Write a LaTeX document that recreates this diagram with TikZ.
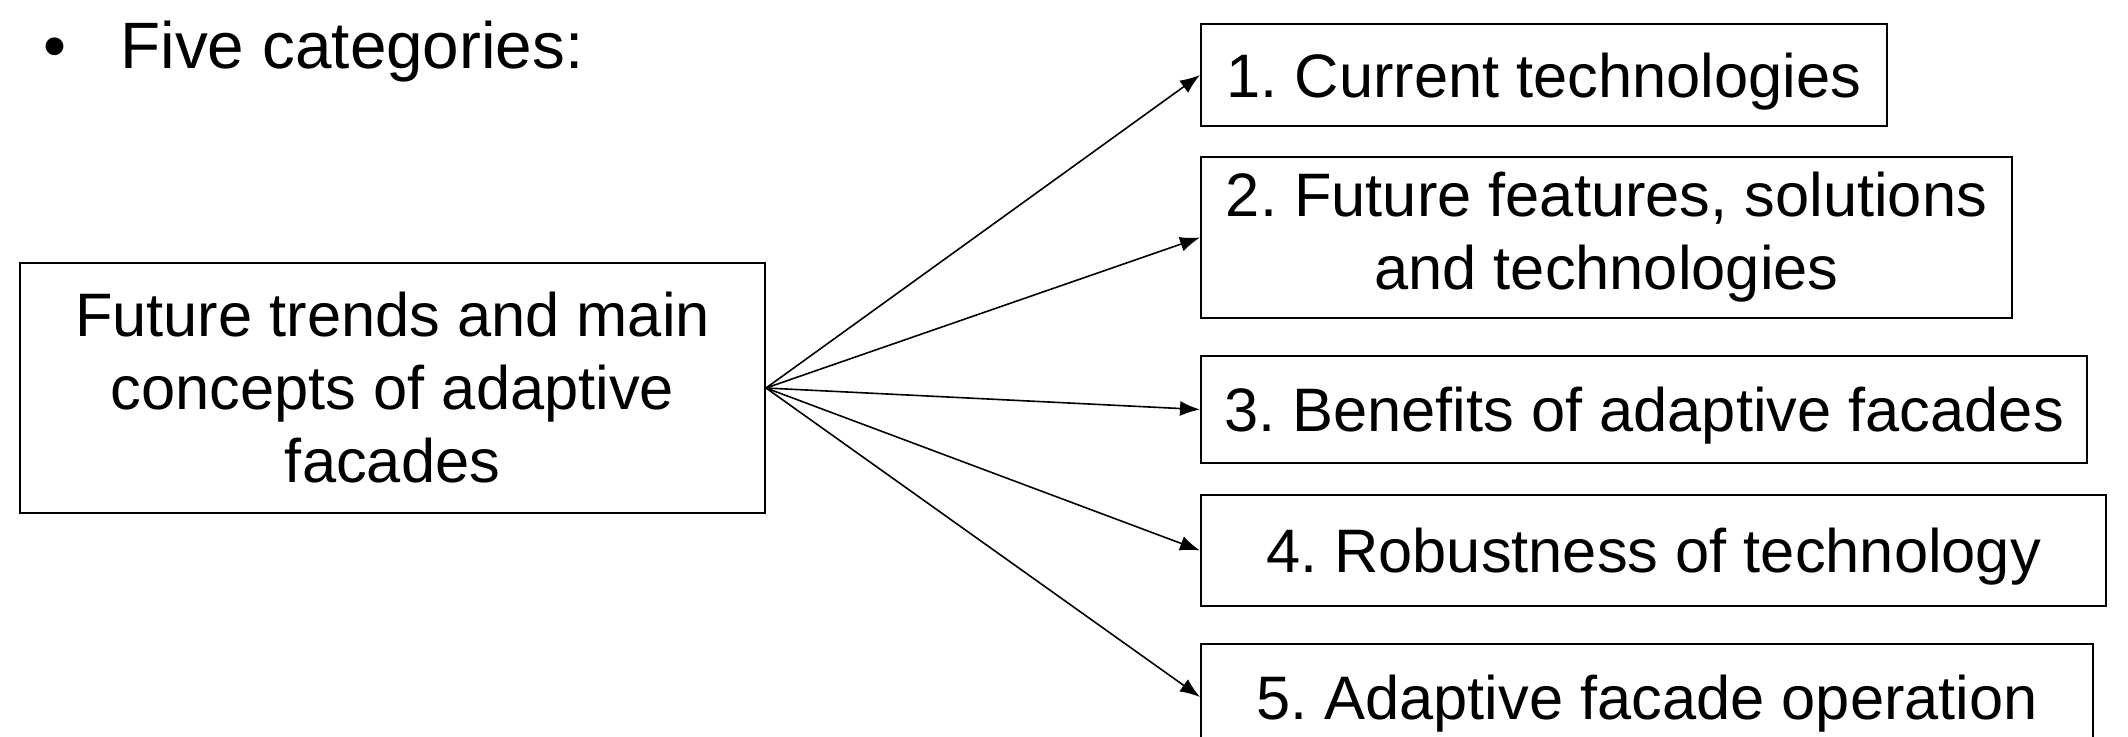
\documentclass[tikz,border=0pt]{standalone}
\usepackage{fontspec}
\setmainfont{Liberation Sans}
\usetikzlibrary{arrows.meta}
\frenchspacing
\begin{document}
\begin{tikzpicture}[x=0.5pt,y=-0.5pt,
  box/.style={draw=black, line width=1pt, inner sep=0pt, align=center,
    font=\fontsize{30.7pt}{36.5pt}\selectfont},
  onebox/.style={box, text depth=0pt},
  link/.style={line width=0.8pt, -{Latex[length=10pt,width=7.5pt]}},
  title/.style={inner sep=0pt, font=\fontsize{32.8pt}{38pt}\selectfont}
]
\useasboundingbox (0,0) rectangle (2128,737);
\node[title, anchor=base] (bul) at (55,69) {•};
\node[title, anchor=base west] (head) at (120,69) {Five categories:};
\node[box, minimum width=372.5pt, minimum height=125pt] (main) at (392.5,388)
  {Future trends and main\\concepts of adaptive\\facades};
\node[onebox, minimum width=343pt, minimum height=51pt] (c1) at (1544,75)
  {1. Current technologies};
\node[box, minimum width=405.5pt, minimum height=80.5pt] (c2) at (1606.5,237.5)
  {2. Future features, solutions\\and technologies};
\node[onebox, minimum width=443pt, minimum height=53.5pt] (c3) at (1644,409.5)
  {3. Benefits of adaptive facades};
\node[onebox, minimum width=452.5pt, minimum height=55.5pt] (c4) at (1653.5,550.5)
  {4. Robustness of technology};
\node[onebox, minimum width=446pt, minimum height=53pt] (c5) at (1647,697)
  {5. Adaptive facade operation};
\draw[link] (main.east) -- (c1.west);
\draw[link] (main.east) -- (c2.west);
\draw[link] (main.east) -- (c3.west);
\draw[link] (main.east) -- (c4.west);
\draw[link] (main.east) -- (c5.west);
\end{tikzpicture}
\end{document}
